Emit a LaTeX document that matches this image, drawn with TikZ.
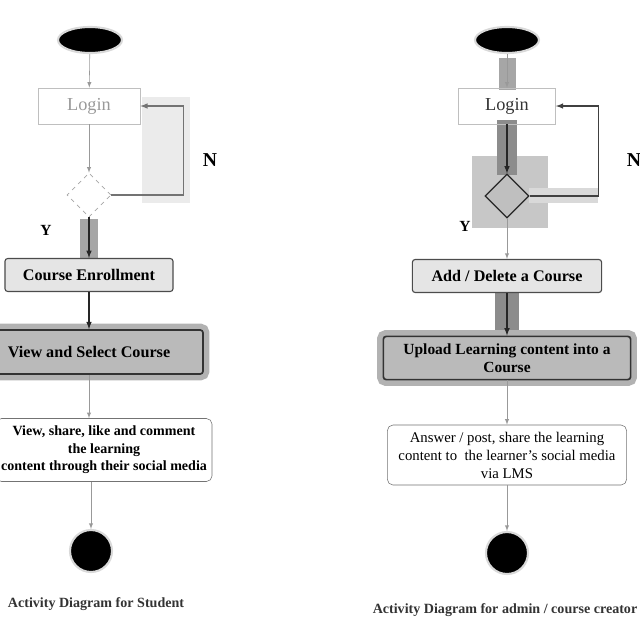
\documentclass[tikz,border=0pt]{standalone}
\usepackage{fontspec}
\setmainfont{Liberation Serif}
\usetikzlibrary{arrows,shapes,calc}
\tikzstyle{startnode}=[ellipse,fill=black,draw=black!15,line width=1.5pt,minimum width=1.6cm,minimum height=0.65cm,inner sep=0pt]
\tikzstyle{endnode}=[circle,fill=black,draw=black!15,line width=1.5pt,minimum size=1.05cm,inner sep=0pt]
\tikzstyle{loginbox}=[rectangle,draw=black!25,minimum height=0.9cm,font=\fontsize{13}{15}\selectfont]
\tikzstyle{decision}=[diamond,minimum width=1.1cm,minimum height=1.1cm,inner sep=0pt]
\tikzstyle{action}=[rectangle,rounded corners=2pt,draw=black!70,thick,fill=black!10,font=\fontsize{11.5}{13}\selectfont\bfseries,align=center]
\tikzstyle{bigaction}=[action,fill=black!27,draw=black!80,line width=1.2pt,preaction={draw=black!30,line width=9pt}]
\tikzstyle{textbox}=[rectangle,rounded corners=4pt,draw=black!55,fill=white,align=center]
\tikzstyle{edge} = [draw,thick,-latex,black!85]
\tikzstyle{faintedge} = [draw,-latex,black!40]
\tikzstyle{answer} = [font=\fontsize{14}{16}\selectfont\bfseries]
\tikzstyle{caption} = [font=\fontsize{10}{12}\selectfont\bfseries,black!80]

\begin{document}
\begin{tikzpicture}[x=0.025cm,y=-0.025cm]
  \useasboundingbox (0,0) rectangle (640,640);

  % shaded marks behind the connectors
  \fill[black!8] (142,97) rectangle (190,203);
  \fill[black!35] (80,219) rectangle (98,258);
  \fill[black!35] (499,58) rectangle (516,90);
  \fill[black!22] (472,156) rectangle (548,228);
  \fill[black!45] (497,120) rectangle (517,175);
  \fill[black!15] (529,188) rectangle (598,203);
  \fill[black!45] (495,293) rectangle (519,335);

  % student
  \node[startnode] (start1) at (90,40) {};
  \node[loginbox,minimum width=2.55cm,text=black!40] (login1) at (89,106) {Login};
  \node[decision,draw=black!35,dashed] (dec1) at (89,195) {};
  \node[action,minimum width=4.2cm,minimum height=0.825cm] (enroll) at (89,275) {Course Enrollment};
  \node[bigaction,minimum width=5.7cm,minimum height=1.1cm] (view) at (89,352) {View and Select Course};
  \node[textbox,minimum width=5.4cm,minimum height=1.575cm,font=\fontsize{10}{12.5}\selectfont\bfseries] (social) at (104,450)
    {View, share, like and comment\\the learning\\content through their social media};
  \node[endnode] (end1) at (91,551) {};
  \node[caption] (cap1) at (96,604) {Activity Diagram for Student};
  \node[answer] (n1) at (210,160) {N};
  \node[answer,font=\fontsize{11}{13}\selectfont\bfseries] (y1) at (46,230) {Y};

  % admin / course creator
  \node[startnode] (start2) at (507,40) {};
  \node[loginbox,minimum width=2.43cm,text=black!80] (login2) at (507,106) {Login};
  \node[decision,fill=black!25,draw=black!85,thick] (dec2) at (507,196) {};
  \node[action,minimum width=4.73cm,minimum height=0.825cm] (add) at (507,276) {Add / Delete a Course};
  \node[bigaction,minimum width=6.18cm,minimum height=1.08cm,font=\fontsize{11}{12.5}\selectfont\bfseries] (upload) at (507,358)
    {Upload Learning content into a\\Course};
  \node[textbox,minimum width=5.98cm,minimum height=1.5cm,font=\fontsize{10.5}{12.8}\selectfont] (share) at (507,455)
    {Answer / post, share the learning\\content to~ the learner’s social media\\via LMS};
  \node[endnode] (end2) at (507,553) {};
  \node[caption] (cap2) at (505,610) {Activity Diagram for admin / course creator};
  \node[answer] (n2) at (634,160) {N};
  \node[answer,font=\fontsize{11}{13}\selectfont\bfseries] (y2) at (465,226) {Y};

  \foreach \source/\dest in {start1/login1, login1/dec1, start2/login2, dec2/add, upload/share, share/end2}
    \path[faintedge] (\source) -- (\dest);
  \foreach \source/\dest in {dec1/enroll, enroll/view, login2/dec2, add/upload}
    \path[edge] (\source) -- (\dest);
  \path[faintedge] (view.south) -- (view.south |- social.north);
  \path[faintedge] (social.south -| end1) -- (end1);

  \draw[edge,black!55] (dec1.east) -- ++(72,0) |- (login1.east);
  \draw[edge,black!75] (dec2.east) -- ++(69,0) |- (login2.east);
\end{tikzpicture}
\end{document}
